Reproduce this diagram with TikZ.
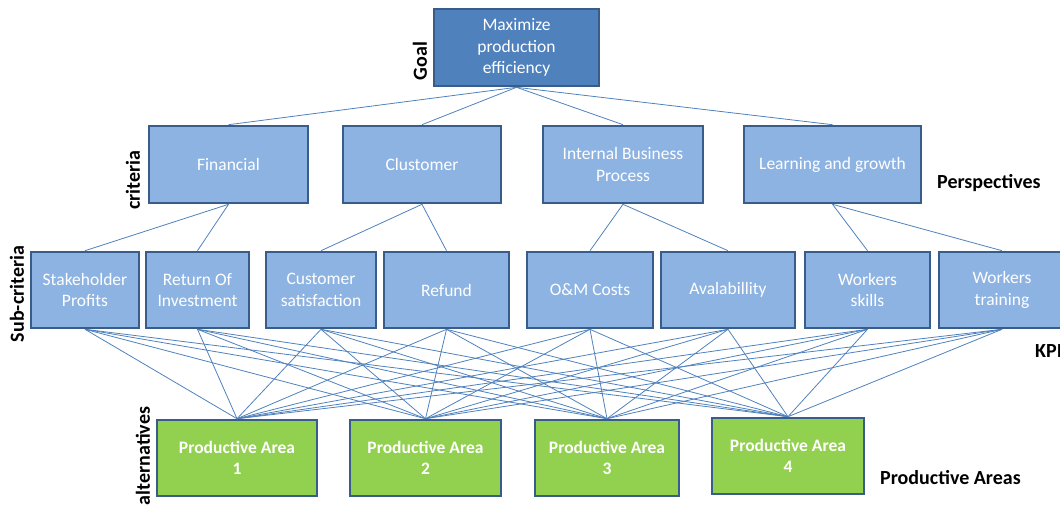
\documentclass[tikz,border=0pt]{standalone}
\usepackage{fontspec}
\setmainfont{Carlito}
\definecolor{goalblue}{HTML}{4F81BD}
\definecolor{critblue}{HTML}{8DB3E2}
\definecolor{edgeblue}{HTML}{385D8A}
\definecolor{areagreen}{HTML}{92D050}
\definecolor{linkblue}{HTML}{4F81BD}
\begin{document}
\begin{tikzpicture}[x=1pt, y=-1pt,
		box/.style={draw=edgeblue, line width=2.6pt, fill=critblue, text=white, align=center, inner sep=0pt, minimum height=76pt, font=\fontsize{17.5}{21.5}\selectfont},
		goalbox/.style={box, fill=goalblue},
		areabox/.style={box, fill=areagreen, font=\fontsize{17.5}{21.5}\selectfont\bfseries},
		level/.style={font=\fontsize{20}{24}\selectfont\bfseries, inner sep=0pt},
		link/.style={draw=linkblue, line width=0.8pt}]
		\clip (0,0) rectangle (1060,506);
		\def\myCriteria{fin/228.5/159/Financial, clu/422/158/Clustomer, ibp/623/160/Internal Business\\Process, lag/832.5/177/Learning and growth}
		\def\mySub{sp/85/108/Stakeholder\\Profits, roi/197.5/103/Return Of\\Investment, cs/321/110/Customer\\satisfaction, ref/446.5/125/Refund, om/590/126/O\&M Costs, av/728/134/Avalabillity, ws/867.5/125/Workers\\skills, wt/1002/126/Workers\\training}
		\def\myAreas{1/237/160/458, 2/425.5/151/458, 3/607/144/458, 4/788/152/456}
		\node[goalbox, minimum width=165pt, minimum height=77pt] (goal) at (516.5, 47.5) {Maximize\\production\\efficiency};
		\foreach \id/\cx/\w/\txt in \myCriteria
		\node[box, minimum width=\w pt, minimum height=77pt] (\id) at (\cx, 164.5) {\txt};
		\foreach \id/\cx/\w/\txt in \mySub
		\node[box, minimum width=\w pt] (\id) at (\cx, 290) {\txt};
		\foreach \i/\cx/\w/\cy in \myAreas
		\node[areabox, minimum width=\w pt] (pa\i) at (\cx, \cy) {Productive Area\\\i};
		\foreach \id in {fin,clu,ibp,lag}
		\draw[link] (goal.south) -- (\id.north);
		\foreach \crit/\subA/\subB in {fin/sp/roi, clu/cs/ref, ibp/om/av, lag/ws/wt}
		{
			\draw[link] (\crit.south) -- (\subA.north);
			\draw[link] (\crit.south) -- (\subB.north);
		}
		\foreach \id in {sp,roi,cs,ref,om,av,ws,wt}
		\foreach \i in {1,2,3,4}
		\draw[link] (\id.south) -- (pa\i.north);
		\node[level, rotate=90] (goallbl) at (420, 61) {Goal};
		\node[level, rotate=90] (critlbl) at (133, 180) {criteria};
		\node[level, rotate=90] (sublbl) at (17, 294) {Sub-criteria};
		\node[level, rotate=90] (altlbl) at (143, 456) {alternatives};
		\node[level, anchor=west] (persp) at (937, 183) {Perspectives};
		\node[level, anchor=west] (kpi) at (1035, 351) {KPI};
		\node[level, anchor=west] (areas) at (880, 478) {Productive Areas};
	\end{tikzpicture}
\end{document}
